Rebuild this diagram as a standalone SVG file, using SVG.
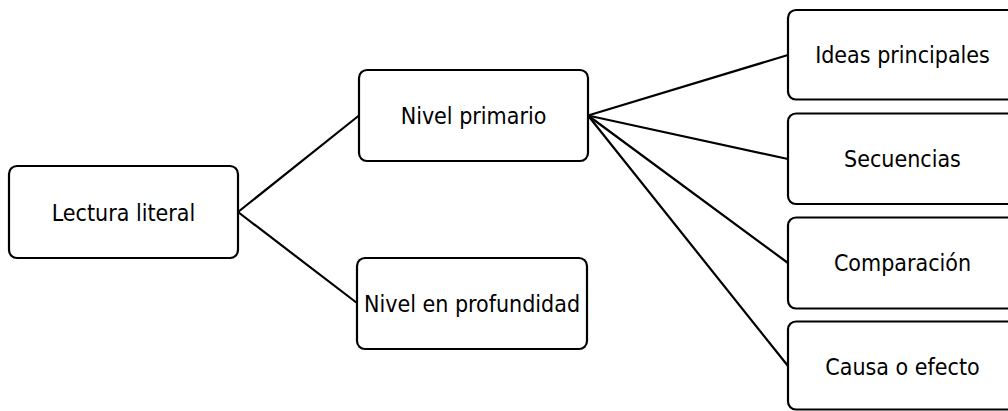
<svg xmlns="http://www.w3.org/2000/svg" width="1008" height="411" viewBox="0 0 1008 411">
  <style>
    .box { fill: #ffffff; stroke: #000000; stroke-width: 2.2; }
    .lbl { font-family: 'DejaVu Sans Condensed', 'DejaVu Sans', sans-serif; font-stretch: condensed; font-size: 23px; fill: #000000; text-anchor: middle; }
    .conn { stroke: #000000; stroke-width: 2.2; fill: none; stroke-linecap: round; }
  </style>
  <rect width="1008" height="411" fill="#ffffff"/>
  <g id="connectors">
    <line class="conn" x1="238" y1="212" x2="359" y2="115.5"/>
    <line class="conn" x1="238" y1="212" x2="357" y2="303"/>
    <line class="conn" x1="588" y1="115.5" x2="788" y2="55"/>
    <line class="conn" x1="588" y1="115.5" x2="788" y2="159"/>
    <line class="conn" x1="588" y1="115.5" x2="788" y2="263"/>
    <line class="conn" x1="588" y1="115.5" x2="788" y2="366"/>
  </g>
  <g id="lectura-literal">
    <rect class="box" x="9" y="166" width="229" height="92" rx="8"/>
    <text class="lbl" x="123.5" y="220.5">Lectura literal</text>
  </g>
  <g id="nivel-primario">
    <rect class="box" x="359" y="70" width="229" height="91" rx="8"/>
    <text class="lbl" x="473.5" y="123.5">Nivel primario</text>
  </g>
  <g id="nivel-profundidad">
    <rect class="box" x="357" y="258" width="230" height="91" rx="8"/>
    <text class="lbl" x="472" y="311.5">Nivel en profundidad</text>
  </g>
  <g id="ideas-principales">
    <rect class="box" x="788" y="10" width="229" height="89.5" rx="8"/>
    <text class="lbl" x="902.5" y="63">Ideas principales</text>
  </g>
  <g id="secuencias">
    <rect class="box" x="788" y="113.5" width="229" height="90.5" rx="8"/>
    <text class="lbl" x="902.5" y="167">Secuencias</text>
  </g>
  <g id="comparacion">
    <rect class="box" x="788" y="217.5" width="229" height="91" rx="8"/>
    <text class="lbl" x="902.5" y="271">Comparación</text>
  </g>
  <g id="causa-efecto">
    <rect class="box" x="788" y="321.5" width="229" height="88" rx="8"/>
    <text class="lbl" x="902.5" y="374.5">Causa o efecto</text>
  </g>
</svg>
